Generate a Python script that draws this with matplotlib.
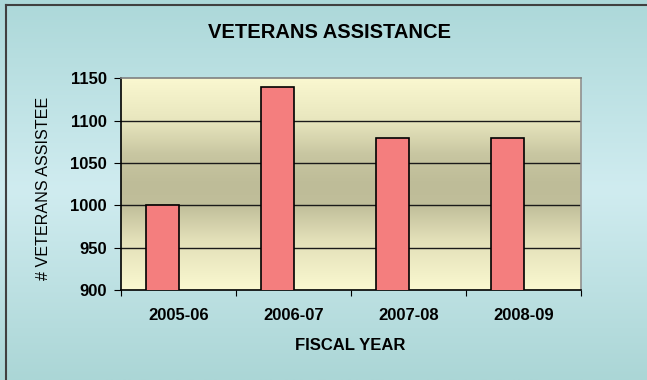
import numpy as np
import matplotlib
matplotlib.use("Agg")
from matplotlib import pyplot as plt
from matplotlib.colors import LinearSegmentedColormap
from matplotlib.lines import Line2D

# chart data
fiscal_years = ["2005-06", "2006-07", "2007-08", "2008-09"]
veterans = [1000, 1140, 1080, 1080]
y_ticks = [900, 950, 1000, 1050, 1100, 1150]

plt.rcParams['font.family'] = ['Liberation Sans', 'DejaVu Sans']

fig = plt.figure(figsize=(6.47, 3.80), dpi=100)

# teal background gradient for the whole chart
bg_ax = fig.add_axes([0, 0, 1, 1], zorder=-10)
bg_cmap = LinearSegmentedColormap.from_list(
    "bg", [(0.0, "#acd8d9"), (0.5, "#d0ecf0"), (1.0, "#abd6d6")])
bg_ax.imshow(np.linspace(0, 1, 256).reshape(-1, 1), cmap=bg_cmap,
             aspect='auto', extent=(0, 1, 0, 1), origin='upper')
bg_ax.set_axis_off()

# chart border (left and top visible)
W, H = 647, 380
fig.add_artist(Line2D([5.5 / W, 5.5 / W], [0, 1 - 4.5 / H],
                      color="#404040", linewidth=1.5))
fig.add_artist(Line2D([5.5 / W, 1], [1 - 4.5 / H, 1 - 4.5 / H],
                      color="#404040", linewidth=1.5))

ax = fig.add_axes([121 / W, 90 / H, 460 / W, 211.7 / H])
ax.patch.set_alpha(0)

# khaki plot-area gradient (light edges, dark centre)
pa_cmap = LinearSegmentedColormap.from_list(
    "pa", [(0.0, "#faf8d0"), (0.2, "#e8e6be"), (0.36, "#c8c6a1"),
           (0.5, "#bebc98"), (0.6, "#c0be9a"), (0.76, "#e2dfb8"),
           (1.0, "#faf8d0")])
ax.imshow(np.linspace(0, 1, 256).reshape(-1, 1), cmap=pa_cmap,
          aspect='auto', extent=(-0.5, 3.5, 900, 1150), origin='upper',
          zorder=0)

x = np.arange(len(fiscal_years))
w = 1 / 3.5
ax.bar(x - w / 2, veterans, width=w, color="#f47e7e", edgecolor="black",
       linewidth=1.2, zorder=3)

ax.set_xlim(-0.5, 3.5)
ax.set_ylim(900, 1150)
ax.set_yticks(y_ticks)
ax.set_yticklabels([str(v) for v in y_ticks], fontsize=12, fontweight='bold')
for v in y_ticks[1:-1]:
    ax.axhline(v, color="#1a1a1a", linewidth=1.0, zorder=1)

ax.set_xticks(np.arange(-0.5, 4, 1))
ax.set_xticklabels([])
ax.set_xticks(x, minor=True)
ax.set_xticklabels(fiscal_years, minor=True, fontsize=12, fontweight='bold')
ax.tick_params(axis='x', which='major', length=4, color='black')
ax.tick_params(axis='x', which='minor', length=0, pad=13)
ax.tick_params(axis='y', length=5, pad=5)

ax.spines['left'].set_color('black')
ax.spines['bottom'].set_color('black')
ax.spines['top'].set_color('#808080')
ax.spines['right'].set_color('#909090')
for s in ax.spines.values():
    s.set_linewidth(1.2)

fig.text(330 / W, 1 - 32 / H, "VETERANS ASSISTANCE", ha='center',
         va='center', fontsize=14.5, fontweight='bold')
fig.text(350 / W, 1 - 346 / H, "FISCAL YEAR", ha='center', va='center',
         fontsize=12, fontweight='bold')
fig.text(43 / W, 1 - 188 / H, "# VETERANS ASSISTEE", ha='center',
         va='center', rotation=90, fontsize=11.6)

fig.savefig("out.png", dpi=100)
